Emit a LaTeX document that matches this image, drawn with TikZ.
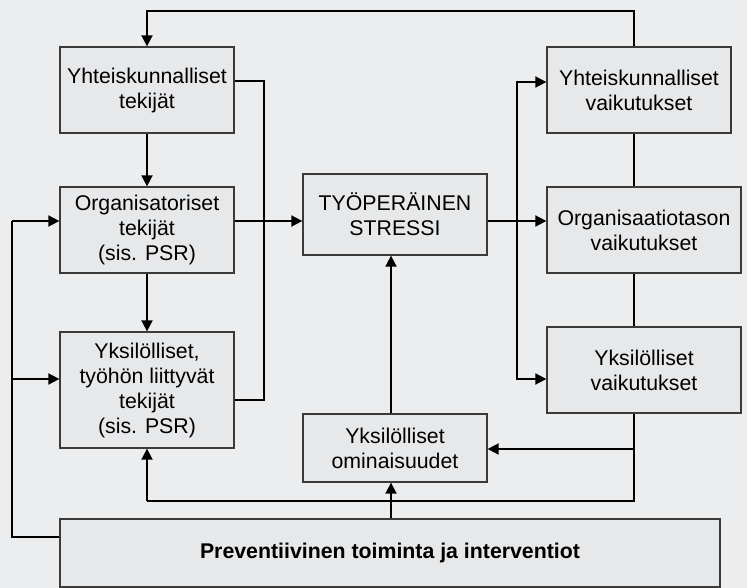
\documentclass[tikz,border=0pt]{standalone}
\usepackage{fontspec}
\setmainfont{Liberation Sans}
\usetikzlibrary{arrows.meta,calc}
\definecolor{bg}{HTML}{ECEDEF}
\definecolor{boxfill}{HTML}{E7E8EA}
\definecolor{boxline}{HTML}{3A3A3A}
\begin{document}
\begin{tikzpicture}[x=1pt,y=-1pt,
  box/.style={draw=boxline, line width=1.3pt, fill=boxfill, align=center, inner sep=0pt,
    font=\fontsize{21.3}{25}\selectfont},
  conn/.style={draw=black, line width=1.8pt},
  arr/.style={conn, -{Triangle[length=11pt,width=11pt]}}]
\fill[bg] (0,0) rectangle (747,588);
\useasboundingbox (0,0) rectangle (747,588);
% nodes
\node[box, minimum width=174pt, minimum height=86pt] (L1) at (147,90) {Yhteiskunnalliset\\tekijät};
\node[box, minimum width=174pt, minimum height=86pt] (L2) at (147,230) {Organisatoriset\\tekijät\\(sis. PSR)};
\node[box, minimum width=174pt, minimum height=116pt] (L3) at (147,390) {Yksilölliset,\\työhön liittyvät\\tekijät\\(sis. PSR)};
\node[box, minimum width=184pt, minimum height=81pt] (S) at (395,214.5) {TYÖPERÄINEN\\STRESSI};
\node[box, minimum width=184pt, minimum height=86pt] (R1) at (639,90) {Yhteiskunnalliset\\vaikutukset};
\node[box, minimum width=194pt, minimum height=86pt] (R2) at (644,230) {Organisaatiotason\\vaikutukset};
\node[box, minimum width=194pt, minimum height=86pt] (R3) at (644,370) {Yksilölliset\\vaikutukset};
\node[box, minimum width=184pt, minimum height=68pt] (O) at (395,448) {Yksilölliset\\ominaisuudet};
\node[box, minimum width=660pt, minimum height=68pt, font=\fontsize{21.3}{25}\selectfont\bfseries] (P) at (390,553) {Preventiivinen toiminta ja interventiot};
% helper coordinates
\coordinate (rv) at (634,0);
\coordinate (lv) at (264,0);
\coordinate (mv) at (517,0);
\coordinate (cx) at (147,0);
\coordinate (ox) at (391,0);
\coordinate (fx) at (12,0);
\coordinate (top) at (0,11);
\coordinate (low) at (0,501);
% top feedback
\draw[arr] (rv |- R1.north) -- (rv |- top) -- (cx |- top) -- (L1.north);
% left column
\draw[arr] (L1.south) -- (L2.north);
\draw[arr] (L2.south) -- (L3.north);
\draw[conn] (L1.east |- 0,81) -- (lv |- 0,81) -- (lv |- 0,400) -- (L3.east |- 0,400);
\draw[arr] (L2.east |- 0,221) -- (S.west |- 0,221);
% stress to effects
\draw[arr] (S.east |- 0,221) -- (R2.west |- 0,221);
\draw[arr] (mv |- 0,221) -- (mv |- 0,82) -- (R1.west |- 0,82);
\draw[arr] (mv |- 0,221) -- (mv |- 0,379) -- (R3.west |- 0,379);
% right column
\draw[conn] (rv |- R1.south) -- (rv |- R2.north);
\draw[conn] (rv |- R2.south) -- (rv |- R3.north);
\draw[conn] (rv |- R3.south) -- (rv |- low) -- (cx |- low);
\draw[arr] (cx |- low) -- (L3.south);
\draw[arr] (rv |- 0,449) -- (O.east |- 0,449);
% middle
\draw[arr] (ox |- O.north) -- (ox |- S.south);
\draw[arr] (ox |- P.north) -- (ox |- O.south);
% left feedback
\draw[conn] (P.west |- 0,537) -- (fx |- 0,537) -- (fx |- 0,221);
\draw[arr] (fx |- 0,221) -- (L2.west |- 0,221);
\draw[arr] (fx |- 0,379) -- (L3.west |- 0,379);
\end{tikzpicture}
\end{document}
